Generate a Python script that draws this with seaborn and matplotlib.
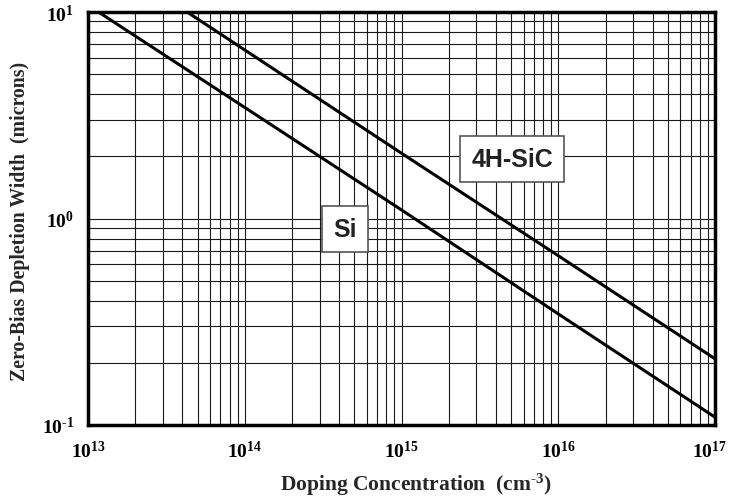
import numpy as np
import pandas as pd
import matplotlib
matplotlib.use("Agg")
import matplotlib.pyplot as plt
import matplotlib.transforms as mtransforms
import seaborn as sns
from matplotlib.ticker import LogLocator, FixedLocator, NullFormatter

# Data
doping = [1e13, 1e14, 1e15, 1e16, 1e17]
si_width = [10.8, 3.45, 1.10, 0.345, 0.109]
sic_width = [20.7, 6.55, 2.07, 0.66, 0.209]
x_ticks = [1e13, 1e14, 1e15, 1e16, 1e17]
x_tick_labels = [r"$\mathbf{10^{13}}$", r"$\mathbf{10^{14}}$", r"$\mathbf{10^{15}}$",
                 r"$\mathbf{10^{16}}$", r"$\mathbf{10^{17}}$"]
y_ticks = [0.1, 1, 10]
y_tick_labels = ["$\\mathbf{10^{\u2010 1}}$", r"$\mathbf{10^{0}}$", r"$\mathbf{10^{1}}$"]

df = pd.DataFrame({
    "N": doping * 2,
    "W": si_width + sic_width,
    "mat": ["Si"] * len(doping) + ["4H-SiC"] * len(doping),
})

sns.set_style("white")
plt.rcParams["font.family"] = ["Liberation Serif", "DejaVu Serif"]
plt.rcParams["mathtext.fontset"] = "custom"
plt.rcParams["mathtext.rm"] = "Liberation Serif"
plt.rcParams["mathtext.bf"] = "Liberation Serif:bold"
plt.rcParams["mathtext.it"] = "Liberation Serif:italic"

fig, ax = plt.subplots(figsize=(7.29, 5.02), dpi=100)
fig.subplots_adjust(left=0.1207, right=0.981, top=0.974, bottom=0.1514)

sns.lineplot(data=df, x="N", y="W", hue="mat", palette={"Si": "black", "4H-SiC": "black"},
             linewidth=2.2, legend=False, ax=ax, zorder=3)

ax.set_xscale("log")
ax.set_yscale("log")
ax.set_xlim(1e13, 1e17)
ax.set_ylim(0.1, 10)

ax.xaxis.set_major_locator(FixedLocator(x_ticks))
ax.set_xticklabels(x_tick_labels)
ax.yaxis.set_major_locator(FixedLocator(y_ticks))
ax.set_yticklabels(y_tick_labels)
ax.xaxis.set_minor_locator(LogLocator(base=10, subs=np.arange(2, 10), numticks=20))
ax.yaxis.set_minor_locator(LogLocator(base=10, subs=np.arange(2, 10), numticks=20))
ax.xaxis.set_minor_formatter(NullFormatter())
ax.yaxis.set_minor_formatter(NullFormatter())

ax.grid(True, which="both", color="#1a1a1a", linewidth=0.8, zorder=1)
ax.set_axisbelow(True)

ax.tick_params(axis="both", which="major", direction="out", length=4, width=1.5,
               labelsize=14, colors="black")
ax.tick_params(axis="x", which="major", pad=7)
ax.tick_params(axis="y", which="major", pad=6)
ax.tick_params(axis="both", which="minor", length=0)

# nudge the last x tick label so it stays inside the figure
last = ax.get_xticklabels()[-1]
last.set_transform(last.get_transform() + mtransforms.ScaledTranslation(-4 / 72, 0, fig.dpi_scale_trans))

for s in ax.spines.values():
    s.set_linewidth(2.5)
    s.set_color("black")

ax.set_xlabel("Doping Concentration  (cm$^{\\mathbf{\u2010 3}}$)",
              fontsize=15.5, fontweight="bold")
ax.xaxis.set_label_coords(0.522, -0.111)
ax.set_ylabel("Zero-Bias Depletion Width  (microns)", fontsize=14.2, fontweight="bold")
ax.yaxis.set_label_coords(-0.092, 0.496)

box = dict(boxstyle="square,pad=0.45", facecolor="white", edgecolor="#555555", linewidth=1.2)
ax.text(4.37e14, 0.889, "Si", fontsize=18, fontweight="bold", family="Liberation Sans",
        color="#222222", ha="center", va="center", bbox=box, zorder=5)
ax.text(5.07e15, 1.94, "4H-SiC", fontsize=18, fontweight="bold", family="Liberation Sans",
        color="#222222", ha="center", va="center", bbox=box, zorder=5)

fig.savefig("out.png", dpi=100)
